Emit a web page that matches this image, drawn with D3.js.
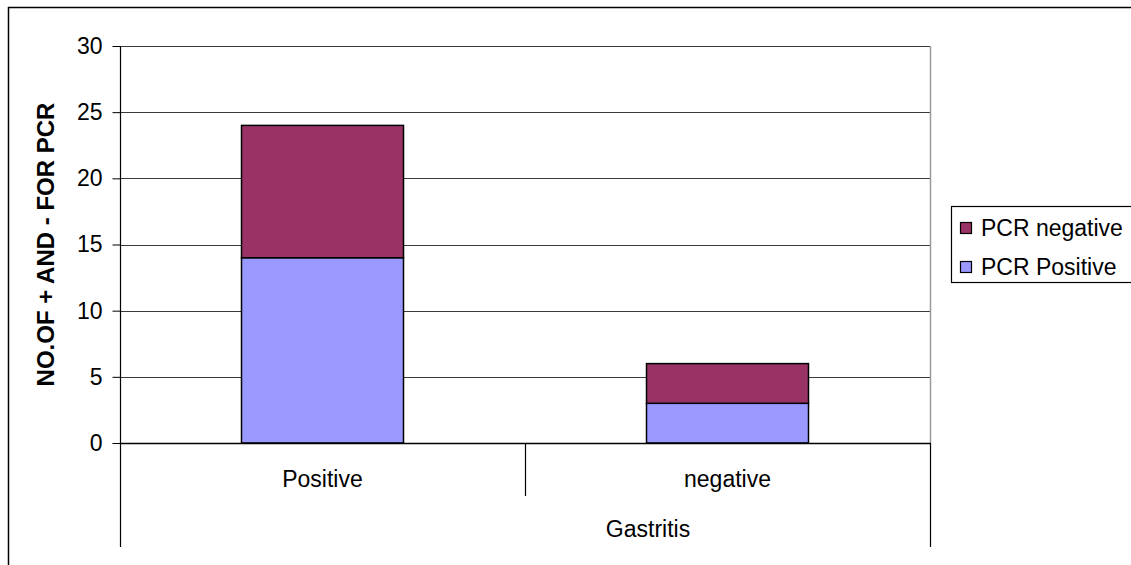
<!DOCTYPE html>
<html>
<head>
<meta charset="utf-8">
<script src="https://cdn.jsdelivr.net/npm/d3@7"></script>
<style>
  html, body { margin: 0; padding: 0; background: #fff; }
  svg { display: block; font-family: "Liberation Sans", Arial, sans-serif; }
</style>
</head>
<body>
<svg id="chart" width="1131" height="565"></svg>
<script>
// Gastritis groups, split by PCR result
const categories = ["Positive", "negative"];
const pcrPositive = [14, 3];
const pcrNegative = [10, 3];
const seriesNames = ["PCR Positive", "PCR negative"];
const seriesColors = ["#9999FF", "#993366"];
const yTicks = [0, 5, 10, 15, 20, 25, 30];
const yTitle = "NO.OF + AND - FOR PCR";
const groupLabel = "Gastritis";

const svg = d3.select("#chart");
const plotL = 120, plotR = 930, plotT = 46, plotB = 443;

// outer chart frame (runs off the right and bottom edges)
svg.append("rect")
  .attr("x", 8.5).attr("y", 7.5)
  .attr("width", 1200).attr("height", 600)
  .attr("fill", "none").attr("stroke", "#000").attr("stroke-width", 1.5);

const y = d3.scaleLinear().domain([0, 30]).range([plotB, plotT]);
const x = d3.scaleBand().domain(categories).range([plotL, plotR])
  .paddingInner(0.6).paddingOuter(0.3);

// gridlines
svg.append("g").selectAll("line")
  .data(yTicks.filter(t => t > 0))
  .join("line")
  .attr("x1", plotL).attr("x2", plotR)
  .attr("y1", d => Math.round(y(d)) + 0.5).attr("y2", d => Math.round(y(d)) + 0.5)
  .attr("stroke", "#3a3a3a").attr("stroke-width", 1);

// plot area right edge
svg.append("line")
  .attr("x1", plotR + 0.5).attr("x2", plotR + 0.5)
  .attr("y1", plotT).attr("y2", plotB)
  .attr("stroke", "#9a9a9a").attr("stroke-width", 1.5);

// stacked bars
const stackData = categories.map((c, i) => ({ cat: c, pos: pcrPositive[i], neg: pcrNegative[i] }));
const stacked = d3.stack().keys(["pos", "neg"])(stackData);
svg.append("g").selectAll("g")
  .data(stacked)
  .join("g")
  .attr("fill", (d, i) => seriesColors[i])
  .selectAll("rect")
  .data(d => d)
  .join("rect")
  .attr("x", d => x(d.data.cat))
  .attr("y", d => y(d[1]))
  .attr("width", x.bandwidth())
  .attr("height", d => y(d[0]) - y(d[1]))
  .attr("stroke", "#000").attr("stroke-width", 1.5);

// y axis
const yAxis = d3.axisLeft(y).tickValues(yTicks).tickSize(8).tickPadding(10);
const ga = svg.append("g").attr("transform", `translate(${plotL + 0.5},0)`).call(yAxis);
ga.select(".domain").remove();
ga.selectAll(".tick line").attr("stroke", "#000");
ga.selectAll(".tick text").attr("font-size", 23).attr("fill", "#000")
  .attr("font-family", "Liberation Sans, Arial, sans-serif");
svg.append("line")
  .attr("x1", plotL + 0.5).attr("x2", plotL + 0.5)
  .attr("y1", plotT).attr("y2", 547)
  .attr("stroke", "#000").attr("stroke-width", 1.2);

// category axis with group divisions
svg.append("line")
  .attr("x1", plotL).attr("x2", plotR + 1)
  .attr("y1", plotB + 0.5).attr("y2", plotB + 0.5)
  .attr("stroke", "#000").attr("stroke-width", 1.5);
const stepW = x.step();
svg.append("line")
  .attr("x1", plotL + stepW + 0.5).attr("x2", plotL + stepW + 0.5)
  .attr("y1", plotB).attr("y2", 496)
  .attr("stroke", "#000").attr("stroke-width", 1.2);
svg.append("line")
  .attr("x1", plotR + 0.5).attr("x2", plotR + 0.5)
  .attr("y1", plotB).attr("y2", 547)
  .attr("stroke", "#000").attr("stroke-width", 1.2);

svg.append("g").selectAll("text")
  .data(categories)
  .join("text")
  .attr("x", d => x(d) + x.bandwidth() / 2)
  .attr("y", 487)
  .attr("text-anchor", "middle")
  .attr("font-size", 23)
  .text(d => d);

svg.append("text")
  .attr("x", 648).attr("y", 537)
  .attr("text-anchor", "middle")
  .attr("font-size", 23)
  .text(groupLabel);

// y title
svg.append("text")
  .attr("transform", `translate(54,${(plotT + plotB) / 2}) rotate(-90)`)
  .attr("text-anchor", "middle")
  .attr("font-size", 24).attr("font-weight", "bold")
  .text(yTitle);

// legend
const lg = svg.append("g");
lg.append("rect")
  .attr("x", 951.5).attr("y", 206.5).attr("width", 190).attr("height", 76)
  .attr("fill", "#fff").attr("stroke", "#000").attr("stroke-width", 1.2);
const legendOrder = [1, 0];
legendOrder.forEach((si, k) => {
  const cy = 228 + k * 39;
  lg.append("rect")
    .attr("x", 960.5).attr("y", cy - 5.5).attr("width", 11).attr("height", 11)
    .attr("fill", seriesColors[si]).attr("stroke", "#000").attr("stroke-width", 1.2);
  lg.append("text")
    .attr("x", 981).attr("y", cy + 7.5)
    .attr("font-size", 23)
    .text(seriesNames[si]);
});
</script>
</body>
</html>
